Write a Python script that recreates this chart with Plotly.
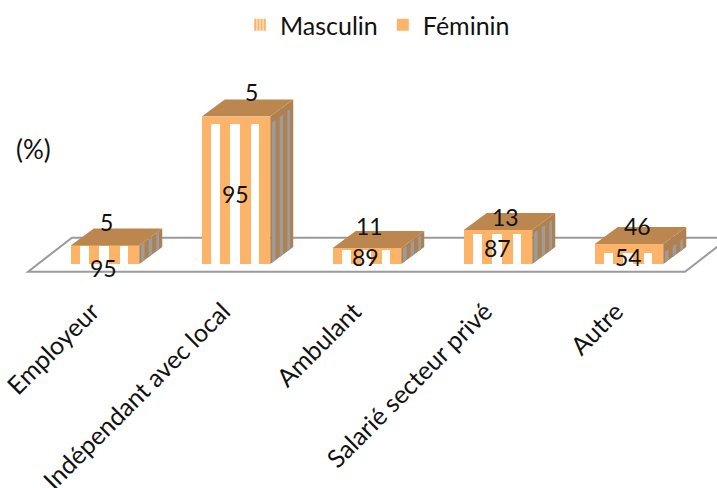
import plotly.graph_objects as go

categories = ["Employeur", "Indépendant avec local", "Ambulant", "Salarié secteur privé", "Autre"]
masculin_height = [17.6, 140.1, 14.2, 29.6, 10.8]
feminin_height = [0.9, 7.4, 1.8, 4.4, 9.2]
masculin_pct = [95, 95, 89, 87, 54]
feminin_pct = [5, 5, 11, 13, 46]

# label fine-tuning (pixels)
m_label_shift = [(-2, -13), (-1, 0), (-2, 0), (-1, 1), (-1, 2)]
f_label_shift = [(1, 24), (15, 25), (2, 22), (7, 13), (8, 18)]

ORANGE = "#FDB469"
TOP = "#BC874F"
SIDE = "#AF8050"
GREY = "#9C9C9C"
FLOOR = "#9A9A9A"
FONT = "Lato"
PX = 131.0
W = 68.5 / PX
DX = 23 / PX
DY = 17.0
STRIPES = [(9.7, 18.0), (28.5, 38.5), (49.0, 57.5)]
SIDE_STRIPES = [(0.08, 0.23), (0.41, 0.56), (0.74, 0.86)]

xs = list(range(len(categories)))
totals = [m + f for m, f in zip(masculin_height, feminin_height)]

fig = go.Figure()
# Legend-carrying traces
fig.add_bar(x=xs, y=masculin_height, width=W, name="Masculin",
            marker=dict(color=ORANGE, line_width=0,
                        pattern=dict(shape="|", fgcolor=ORANGE, fgopacity=1, bgcolor="white", size=4, solidity=0.75)))
fig.add_bar(x=xs, y=feminin_height, base=masculin_height, width=W, name="Féminin",
            marker=dict(color=ORANGE, line_width=0))
# Solid front of the masculine segment and its white stripes
fig.add_bar(x=xs, y=masculin_height, width=W, showlegend=False, marker=dict(color=ORANGE, line_width=0))
for a, b in STRIPES:
    fig.add_bar(x=xs, y=masculin_height, width=(b - a) / PX, offset=-W / 2 + a / PX,
                showlegend=False, marker=dict(color="white", line_width=0))


def face(points_per_bar, color):
    px, py = [], []
    for pts in points_per_bar:
        for p in pts + [pts[0]]:
            px.append(p[0])
            py.append(p[1])
        px.append(None)
        py.append(None)
    fig.add_scatter(x=px, y=py, mode="lines", fill="toself", fillcolor=color,
                    line=dict(width=0, color=color), showlegend=False, hoverinfo="skip")


face([[(x + W / 2, 0), (x + W / 2 + DX, DY), (x + W / 2 + DX, t + DY), (x + W / 2, t)]
      for x, t in zip(xs, totals)], SIDE)
face([[(x - W / 2, t), (x + W / 2, t), (x + W / 2 + DX, t + DY), (x - W / 2 + DX, t + DY)]
      for x, t in zip(xs, totals)], TOP)
grey_faces = []
for x, m in zip(xs, masculin_height):
    for a, b in SIDE_STRIPES:
        r = x + W / 2
        grey_faces.append([(r + a * DX, a * DY), (r + b * DX, b * DY),
                           (r + b * DX, m + b * DY), (r + a * DX, m + a * DY)])
face(grey_faces, GREY)

annotations = []
for x, m, f, mp, fp, ms, fs in zip(xs, masculin_height, feminin_height, masculin_pct, feminin_pct,
                                   m_label_shift, f_label_shift):
    annotations.append(dict(x=x, y=m / 2, text=str(mp), showarrow=False, xshift=ms[0], yshift=ms[1]))
    annotations.append(dict(x=x, y=m + f, text=str(fp), showarrow=False, xshift=fs[0], yshift=fs[1]))
annotations.append(dict(xref="paper", yref="paper", x=33 / 717, y=1 - 149 / 274, text="(%)", showarrow=False,
                        xanchor="center", font=dict(size=26)))

fig.add_shape(type="path", xref="x", yref="y", layer="below",
              path=f"M {(28-105)/PX},-7.7 L {(72-105)/PX},26.3 L {(729-105)/PX},26.3 L {(685-105)/PX},-7.7 Z",
              line=dict(color=FLOOR, width=2), fillcolor="white")

fig.update_layout(
    width=717, height=488, barmode="overlay", bargap=0,
    margin=dict(l=0, r=0, t=0, b=214),
    paper_bgcolor="white", plot_bgcolor="white",
    font=dict(family=FONT, size=23, color="#111111"),
    annotations=annotations,
    legend=dict(orientation="h", x=377.5 / 717, xanchor="center", y=1 - 2 / 274, yanchor="top",
                font=dict(family=FONT, size=25), itemwidth=30, bgcolor="rgba(0,0,0,0)"),
    xaxis=dict(range=[-105 / PX, (717 - 105) / PX], tickmode="array", tickvals=xs, ticktext=categories,
               tickangle=-45, showgrid=False, zeroline=False, showline=False, ticks="", automargin=False,
               ticklabelshift=-13, ticklabelstandoff=17,
               tickfont=dict(family=FONT, size=25)),
    yaxis=dict(range=[-10, 264], visible=False, showgrid=False, zeroline=False),
)
fig.write_html("out.html", config=dict(displayModeBar=False),
               post_script="document.body.style.margin='0';document.body.style.overflow='hidden';")
